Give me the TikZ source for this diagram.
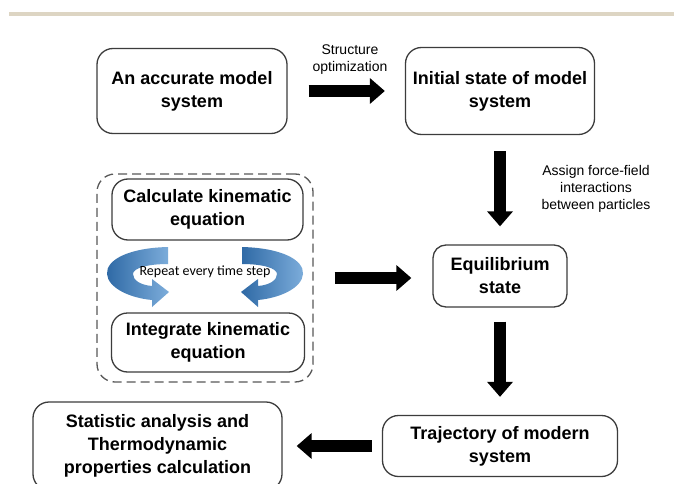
\documentclass[tikz,border=0pt]{standalone}
\usepackage{fontspec}
\setmainfont{Liberation Sans}
\newfontfamily\carlfont{Carlito}
\usetikzlibrary{arrows.meta}
\definecolor{barcol}{HTML}{DDD5C3}
\definecolor{boxline}{HTML}{3C3C3C}
\definecolor{blueA}{HTML}{2E69A5}
\definecolor{blueB}{HTML}{7DADDB}
\begin{document}
\begin{tikzpicture}[x=1pt,y=-1pt,
  box/.style={draw=boxline, line width=1.3pt, rounded corners=16pt, align=center,
    font=\fontsize{18}{23}\selectfont\bfseries, inner sep=0pt},
  blockarrow/.style={line width=12pt, -{Triangle[length=15pt,width=25pt]}},
  lbl/.style={align=center, font=\fontsize{14}{17}\selectfont},
  looparrow/.style={left color=blueA, right color=blueB}]
\clip (0,0) rectangle (674,484);
\fill[white] (0,0) rectangle (674,484);
\fill[barcol] (9,12) rectangle (674,16);

% boxes
\node[box, minimum width=190pt, minimum height=85pt] (acc) at (192,91) {An accurate model\\system};
\node[box, minimum width=189pt, minimum height=87pt] (init) at (500,91) {Initial state of model\\system};
\node[box, rounded corners=13pt, minimum width=134pt, minimum height=62pt] (eq) at (500,276) {Equilibrium\\state};
\node[draw=boxline!85, line width=1.3pt, dash pattern=on 9pt off 5pt, rounded corners=18pt,
  minimum width=216pt, minimum height=208pt, inner sep=0pt] (loop) at (205,278) {};
\node[box, minimum width=191pt, minimum height=61pt] (calc) at (207.5,209.5) {Calculate kinematic\\equation};
\node[box, minimum width=193pt, minimum height=59pt] (integ) at (208,342.5) {Integrate kinematic\\equation};
\node[box, minimum width=235pt, minimum height=61pt] (traj) at (500,446) {Trajectory of modern\\system};
\node[box, minimum width=249pt, minimum height=88pt] (stat) at (157.5,446) {Statistic analysis and\\Thermodynamic\\properties calculation};

% circular repeat arrows
\shade[looparrow] (168,247) .. controls (128,248) and (106,260) .. (107,274)
  .. controls (108,288) and (130,298) .. (152,300) -- (152,307) -- (169,292) -- (152,279) -- (152,286)
  .. controls (140,285) and (133,280) .. (133,274) .. controls (133,268) and (148,264) .. (168,264) -- cycle;
\begin{scope}[xshift=410pt, xscale=-1]
\shade[looparrow] (168,247) .. controls (128,248) and (106,260) .. (107,274)
  .. controls (108,288) and (130,298) .. (152,300) -- (152,307) -- (169,292) -- (152,279) -- (152,286)
  .. controls (140,285) and (133,280) .. (133,274) .. controls (133,268) and (148,264) .. (168,264) -- cycle;
\end{scope}
\node[font=\carlfont\fontsize{14}{16}\selectfont, inner sep=0pt] (rep) at (205,272) {Repeat every time step};

% connectors
\draw[blockarrow, shorten <=21pt, shorten >=20pt] (acc.east) -- (init.west);
\draw[blockarrow, shorten <=16pt, shorten >=18pt] (init.south) -- (eq.north);
\draw[blockarrow, shorten <=21pt, shorten >=21pt] (loop.east) -- (loop.east -| eq.west);
\draw[blockarrow, shorten <=14pt, shorten >=18pt] (eq.south) -- (traj.north);
\draw[blockarrow, shorten <=10pt, shorten >=14pt] (traj.west) -- (traj.west -| stat.east);

% labels
\node[lbl] (optlbl) at (350,60) {Structure\\optimization};
\node[lbl] (fflbl) at (596,189) {Assign force-field\\interactions\\between particles};
\end{tikzpicture}
\end{document}
